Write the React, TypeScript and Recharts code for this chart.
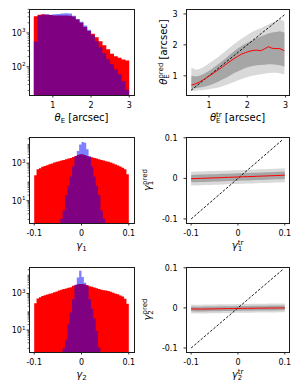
import React from 'react';
import { ComposedChart, Area, Line, XAxis, YAxis, Label } from 'recharts';

const FONT = '"DejaVu Sans", sans-serif';

// theta_E histogram: 25 bins from 0.5 to 3.0 arcsec
const thetaEdges = [0.5, 0.6, 0.7, 0.8, 0.9, 1.0, 1.1, 1.2, 1.3, 1.4, 1.5, 1.6, 1.7, 1.8, 1.9, 2.0, 2.1, 2.2, 2.3, 2.4, 2.5, 2.6, 2.7, 2.8, 2.9, 3.0];
const thetaTrueCounts = [3100, 3450, 3550, 3450, 3400, 3300, 3300, 3300, 3300, 3250, 3050, 2500, 2000, 1500, 1150, 950, 745, 570, 435, 330, 245, 205, 184, 164, 154];
const thetaPredCounts = [560, 3300, 3450, 3550, 3450, 3550, 3650, 3750, 3850, 3750, 3200, 2600, 2150, 1650, 1250, 850, 570, 380, 250, 170, 120, 85, 60, 38, 21];

// gamma histograms: 40 bins from -0.1 to 0.1
const gammaEdges = [-0.1, -0.095, -0.09, -0.085, -0.08, -0.075, -0.07, -0.065, -0.06, -0.055, -0.05, -0.045, -0.04, -0.035, -0.03, -0.025, -0.02, -0.015, -0.01, -0.005, 0, 0.005, 0.01, 0.015, 0.02, 0.025, 0.03, 0.035, 0.04, 0.045, 0.05, 0.055, 0.06, 0.065, 0.07, 0.075, 0.08, 0.085, 0.09, 0.095, 0.1];
const gamma1TrueCounts = [230, 480, 540, 640, 720, 780, 885, 960, 1085, 1180, 1280, 1390, 1500, 1630, 1770, 1920, 2170, 2450, 2770, 3010, 3010, 2770, 2450, 2170, 2080, 1920, 1770, 1630, 1500, 1390, 1280, 1180, 1085, 960, 850, 750, 665, 565, 480, 260];
const gamma1PredCounts = [null, null, null, null, null, null, null, null, null, null, null, 1.1, 3, 20, 63, 195, 665, 2260, 4500, 10000, 13500, 12500, 5500, 2450, 665, 195, 63, 20, 3, 1.1, null, null, null, null, null, null, null, null, null, null];
const gamma2TrueCounts = [295, 530, 620, 720, 810, 880, 960, 1040, 1150, 1300, 1450, 1600, 1730, 1880, 2040, 2200, 2630, 2900, 3150, 3250, 3250, 3100, 2900, 2500, 2300, 2100, 1900, 1750, 1600, 1520, 1450, 1350, 1230, 1100, 950, 900, 780, 685, 520, 270];
const gamma2PredCounts = [null, null, null, null, null, null, null, null, null, null, null, null, 1, 2.9, 21, 91, 490, 3000, 7500, 17500, 8000, 3800, 2600, 490, 140, 43, 9, 1.1, null, null, null, null, null, null, null, null, null, null, null, null];

// theta_E predicted vs true (binned median and percentile bands)
const thetaTrue = [0.54, 0.65, 0.75, 0.85, 0.95, 1.05, 1.15, 1.25, 1.35, 1.45, 1.55, 1.65, 1.75, 1.85, 1.95, 2.05, 2.15, 2.25, 2.35, 2.45, 2.55, 2.65, 2.75, 2.85, 2.97];
const thetaMedian = [0.7, 0.74, 0.8, 0.87, 0.95, 1.03, 1.11, 1.2, 1.29, 1.38, 1.47, 1.55, 1.63, 1.7, 1.75, 1.79, 1.82, 1.83, 1.81, 1.87, 1.94, 1.89, 1.88, 1.88, 1.81];
const thetaInnerLo = [0.58, 0.6, 0.62, 0.64, 0.67, 0.71, 0.76, 0.82, 0.88, 0.94, 1.01, 1.08, 1.14, 1.2, 1.25, 1.29, 1.32, 1.34, 1.35, 1.36, 1.37, 1.37, 1.36, 1.34, 1.3];
const thetaInnerHi = [1.0, 0.98, 1.0, 1.05, 1.12, 1.2, 1.29, 1.38, 1.48, 1.58, 1.69, 1.79, 1.88, 1.96, 2.04, 2.1, 2.16, 2.22, 2.27, 2.32, 2.37, 2.4, 2.42, 2.44, 2.4];
const thetaOuterLo = [0.5, 0.52, 0.53, 0.54, 0.56, 0.58, 0.6, 0.62, 0.66, 0.7, 0.75, 0.8, 0.85, 0.9, 0.94, 0.98, 1.01, 1.03, 1.05, 1.07, 1.09, 1.1, 1.1, 1.08, 1.04];
const thetaOuterHi = [1.27, 1.2, 1.22, 1.28, 1.36, 1.45, 1.53, 1.62, 1.72, 1.82, 1.92, 2.02, 2.11, 2.2, 2.28, 2.36, 2.43, 2.49, 2.54, 2.6, 2.66, 2.72, 2.78, 2.84, 2.76];
const thetaDiag = [0.53, 2.98];

// gamma predicted vs true
const gammaTrue = [-0.1, -0.09, -0.08, -0.07, -0.06, -0.05, -0.04, -0.03, -0.02, -0.01, 0, 0.01, 0.02, 0.03, 0.04, 0.05, 0.06, 0.07, 0.08, 0.09, 0.1];
const gamma1Median = [-0.0008, -0.0004, 0.0, 0.0004, 0.0009, 0.0013, 0.0017, 0.0022, 0.0026, 0.003, 0.0034, 0.0039, 0.0043, 0.0047, 0.0052, 0.0056, 0.006, 0.0065, 0.0069, 0.0074, 0.0079];
const gamma1InnerLo = [-0.0098, -0.0095, -0.0091, -0.0087, -0.0083, -0.0079, -0.0075, -0.0071, -0.0066, -0.0062, -0.0058, -0.0054, -0.005, -0.0045, -0.0041, -0.0037, -0.0033, -0.0028, -0.0024, -0.002, -0.0015];
const gamma1InnerHi = [0.0085, 0.009, 0.0093, 0.0097, 0.0101, 0.0104, 0.0108, 0.0112, 0.0116, 0.012, 0.0124, 0.0128, 0.0132, 0.0136, 0.014, 0.0145, 0.0149, 0.0154, 0.0158, 0.0163, 0.0168];
const gamma1OuterLo = [-0.0178, -0.0174, -0.017, -0.0166, -0.0162, -0.0158, -0.0154, -0.015, -0.0146, -0.0141, -0.0137, -0.0133, -0.0129, -0.0124, -0.012, -0.0116, -0.0112, -0.0107, -0.0103, -0.0099, -0.0094];
const gamma1OuterHi = [0.0165, 0.017, 0.0172, 0.0176, 0.018, 0.0183, 0.0188, 0.0191, 0.0195, 0.02, 0.0203, 0.0207, 0.0211, 0.0215, 0.022, 0.0224, 0.0228, 0.0233, 0.0237, 0.0242, 0.0247];
const gamma2Median = [-0.0026, -0.0029, -0.003, -0.0028, -0.0026, -0.0024, -0.0022, -0.002, -0.0018, -0.0016, -0.0014, -0.0012, -0.001, -0.0009, -0.0007, -0.0006, -0.0004, -0.0003, -0.0002, -0.0001, 0.0];
const gamma2InnerLo = [-0.0086, -0.0089, -0.009, -0.0088, -0.0086, -0.0084, -0.0082, -0.008, -0.0078, -0.0076, -0.0074, -0.0072, -0.007, -0.0069, -0.0067, -0.0066, -0.0064, -0.0063, -0.0062, -0.0061, -0.006];
const gamma2InnerHi = [0.0034, 0.003, 0.003, 0.0032, 0.0034, 0.0036, 0.0038, 0.004, 0.0042, 0.0044, 0.0046, 0.0048, 0.005, 0.0051, 0.0053, 0.0054, 0.0056, 0.0057, 0.0058, 0.0059, 0.006];
const gamma2OuterLo = [-0.0136, -0.0139, -0.014, -0.0138, -0.0136, -0.0134, -0.0132, -0.013, -0.0128, -0.0126, -0.0124, -0.0122, -0.012, -0.0119, -0.0117, -0.0116, -0.0114, -0.0113, -0.0112, -0.0111, -0.011];
const gamma2OuterHi = [0.0084, 0.008, 0.008, 0.0082, 0.0084, 0.0086, 0.0088, 0.009, 0.0092, 0.0094, 0.0096, 0.0098, 0.01, 0.0101, 0.0103, 0.0104, 0.0106, 0.0107, 0.0108, 0.0109, 0.011];
const gammaDiag = [-0.1, 0.095];

// tick values
const thetaTicks = [1, 2, 3];
const gammaTicks = [-0.1, 0, 0.1];
const thetaCountMajor = [100, 1000];
const thetaCountMinor = [20, 30, 40, 50, 60, 70, 80, 90, 200, 300, 400, 500, 600, 700, 800, 900, 2000, 3000, 4000, 5000];
const gammaCountMajor = [10, 1000];
const gammaCountMinor = [1, 2, 3, 4, 5, 6, 7, 8, 9, 20, 30, 40, 50, 60, 70, 80, 90, 100, 200, 300, 400, 500, 600, 700, 800, 900, 2000, 3000, 4000, 5000, 6000, 7000, 8000, 9000, 10000, 20000];

// step-histogram rows: one point per bin edge, the last edge repeats the last bin
function histTable(edges, red, blue) {
  const pick = (arr, i) => {
    if (arr[i] != null) return arr[i];
    return arr[i - 1] != null ? arr[i - 1] : null;
  };
  return edges.map((x, i) => ({ x, red: pick(red, i), blue: pick(blue, i) }));
}

function bandTable(xs, med, inLo, inHi, outLo, outHi) {
  return xs.map((x, i) => ({ x, med: med[i], inner: [inLo[i], inHi[i]], outer: [outLo[i], outHi[i]] }));
}

const PAD_T = 5;
const PAD_R = 6;
const X_AXIS_H = 34;

const fmt = (v) => String(v);

// width of small mathtext pieces (DejaVu Sans advance widths, em)
const glyphW = { E: 0.632, '1': 0.636, '2': 0.636, t: 0.392, r: 0.411, p: 0.635, e: 0.615, d: 0.635 };
const textW = (s, size) => s.split('').reduce((a, c) => a + (glyphW[c] || 0.6), 0) * size;

function MathText({ x, y, base, sub, sup, rest, rotate }) {
  const s = 7;
  const supW = sup ? textW(sup, s) : 0;
  const subW = textW(sub, s);
  return (
    <text
      x={x}
      y={y}
      textAnchor="middle"
      fontSize={10}
      fontFamily={FONT}
      fill="#000"
      transform={rotate ? `rotate(-90 ${x} ${y})` : undefined}
    >
      <tspan fontStyle="italic">{base}</tspan>
      {sup ? <tspan fontSize={s} dy={-4}>{sup}</tspan> : null}
      <tspan fontSize={s} dx={sup ? -supW : 0} dy={sup ? 6.5 : 2.5}>{sub}</tspan>
      {rest ? <tspan dx={sup ? Math.max(0, supW - subW) : 0} dy={-2.5}>{rest}</tspan> : null}
    </text>
  );
}

function XTick({ x, y, payload }) {
  return (
    <g>
      <line x1={x} x2={x} y1={y} y2={y + 2.5} stroke="#000" strokeWidth={0.8} />
      <text x={x} y={y + 12.8} textAnchor="middle" fontSize={8} fontFamily={FONT} fill="#000">
        {fmt(payload.value)}
      </text>
    </g>
  );
}

function LinYTick({ x, y, payload }) {
  return (
    <g>
      <line x1={x - 2.5} x2={x} y1={y} y2={y} stroke="#000" strokeWidth={0.8} />
      <text x={x - 8.5} y={y + 2.9} textAnchor="end" fontSize={8} fontFamily={FONT} fill="#000">
        {fmt(payload.value)}
      </text>
    </g>
  );
}

function LogYTick({ x, y, payload, labeled }) {
  const v = payload.value;
  if (labeled.includes(v)) {
    const exp = Math.round(Math.log10(v));
    return (
      <g>
        <line x1={x - 2.5} x2={x} y1={y} y2={y} stroke="#000" strokeWidth={0.8} />
        <text x={x - 3.5} y={y + 3} textAnchor="end" fontSize={8} fontFamily={FONT} fill="#000">
          10<tspan dy={-3.5} fontSize={5.6}>{exp}</tspan>
        </text>
      </g>
    );
  }
  return <line x1={x - 1.4} x2={x} y1={y} y2={y} stroke="#000" strokeWidth={0.6} />;
}

function Frame({ left, top, w, h }) {
  return (
    <div
      style={{
        position: 'absolute',
        left: left - 0.5,
        top: top - 0.5,
        width: w + 1,
        height: h + 1,
        border: '1px solid #1a1a1a',
        boxSizing: 'border-box',
        pointerEvents: 'none',
      }}
    />
  );
}

function HistPanel({ left, top, w, h, yAxisW, xDomain, xTicks, yDomain, yMajor, yMinor, data, xLabel }) {
  return (
    <>
      <div style={{ position: 'absolute', left: left - yAxisW, top: top - PAD_T }}>
        <ComposedChart
          width={yAxisW + w + PAD_R}
          height={PAD_T + h + X_AXIS_H}
          data={data}
          margin={{ top: PAD_T, right: PAD_R, left: 0, bottom: 0 }}
        >
          <XAxis
            type="number"
            dataKey="x"
            domain={xDomain}
            allowDataOverflow
            ticks={xTicks}
            interval={0}
            tickSize={0}
            tickMargin={0}
            axisLine={false}
            tickLine={false}
            height={X_AXIS_H}
            tick={(t) => <XTick {...t} />}
          >
            <Label content={() => <MathText x={yAxisW + w / 2} y={PAD_T + h + 25.5} {...xLabel} />} />
          </XAxis>
          <YAxis
            type="number"
            scale="log"
            domain={yDomain}
            allowDataOverflow
            ticks={[...yMajor, ...yMinor]}
            interval={0}
            tickSize={0}
            tickMargin={0}
            axisLine={false}
            tickLine={false}
            width={yAxisW}
            tick={(t) => <LogYTick {...t} labeled={yMajor} />}
          />
          <Area type="stepAfter" dataKey="red" stroke="none" fill="#ff0000" fillOpacity={1} baseValue={yDomain[0]} isAnimationActive={false} dot={false} activeDot={false} />
          <Area type="stepAfter" dataKey="blue" stroke="none" fill="#0000ff" fillOpacity={0.5} baseValue={yDomain[0]} isAnimationActive={false} dot={false} activeDot={false} />
        </ComposedChart>
      </div>
      <Frame left={left} top={top} w={w} h={h} />
    </>
  );
}

function ScatterPanel({ left, top, w, h, yAxisW, xDomain, yDomain, ticks, data, diag, xLabel, yLabel, yLabelX }) {
  const diagData = diag.map((v) => ({ x: v, y: v }));
  return (
    <>
      <div style={{ position: 'absolute', left: left - yAxisW, top: top - PAD_T }}>
        <ComposedChart
          width={yAxisW + w + PAD_R}
          height={PAD_T + h + X_AXIS_H}
          data={data}
          margin={{ top: PAD_T, right: PAD_R, left: 0, bottom: 0 }}
        >
          <XAxis
            type="number"
            dataKey="x"
            domain={xDomain}
            allowDataOverflow
            ticks={ticks}
            interval={0}
            tickSize={0}
            tickMargin={0}
            axisLine={false}
            tickLine={false}
            height={X_AXIS_H}
            tick={(t) => <XTick {...t} />}
          >
            <Label content={() => <MathText x={yAxisW + w / 2} y={PAD_T + h + 25.5} {...xLabel} />} />
          </XAxis>
          <YAxis
            type="number"
            domain={yDomain}
            allowDataOverflow
            ticks={ticks}
            interval={0}
            tickSize={0}
            tickMargin={0}
            axisLine={false}
            tickLine={false}
            width={yAxisW}
            tick={(t) => <LinYTick {...t} />}
          >
            <Label content={() => <MathText x={yLabelX - (left - yAxisW)} y={PAD_T + h / 2} rotate {...yLabel} />} />
          </YAxis>
          <Area type="linear" dataKey="outer" stroke="none" fill="#d9d9d9" fillOpacity={1} isAnimationActive={false} dot={false} activeDot={false} />
          <Area type="linear" dataKey="inner" stroke="none" fill="#a6a6a6" fillOpacity={1} isAnimationActive={false} dot={false} activeDot={false} />
          <Line data={diagData} dataKey="y" stroke="#000" strokeWidth={0.9} strokeDasharray="2.6 1.6" dot={false} activeDot={false} isAnimationActive={false} />
          <Line type="linear" dataKey="med" stroke="#ff0000" strokeWidth={1} dot={false} activeDot={false} isAnimationActive={false} />
        </ComposedChart>
      </div>
      <Frame left={left} top={top} w={w} h={h} />
    </>
  );
}

const LX = 29;
const LW = 105;
const RX = 186;
const RW = 103;
const ROWS = [
  { top: 9, h: 86 },
  { top: 137, h: 86 },
  { top: 267, h: 85 },
];

export default function App() {
  const thetaHist = histTable(thetaEdges, thetaTrueCounts, thetaPredCounts);
  const g1Hist = histTable(gammaEdges, gamma1TrueCounts, gamma1PredCounts);
  const g2Hist = histTable(gammaEdges, gamma2TrueCounts, gamma2PredCounts);
  const thetaBand = bandTable(thetaTrue, thetaMedian, thetaInnerLo, thetaInnerHi, thetaOuterLo, thetaOuterHi);
  const g1Band = bandTable(gammaTrue, gamma1Median, gamma1InnerLo, gamma1InnerHi, gamma1OuterLo, gamma1OuterHi);
  const g2Band = bandTable(gammaTrue, gamma2Median, gamma2InnerLo, gamma2InnerHi, gamma2OuterLo, gamma2OuterHi);

  return (
    <div style={{ position: 'absolute', left: 0, top: 0, width: 299, height: 385, background: '#fff', overflow: 'hidden' }}>
      <HistPanel
        left={LX} top={ROWS[0].top} w={LW} h={ROWS[0].h} yAxisW={29}
        xDomain={[0.375, 3.125]} xTicks={thetaTicks}
        yDomain={[14.7, 5100]} yMajor={thetaCountMajor} yMinor={thetaCountMinor}
        data={thetaHist}
        xLabel={{ base: 'θ', sub: 'E', rest: ' [arcsec]' }}
      />
      <ScatterPanel
        left={RX} top={ROWS[0].top} w={RW} h={ROWS[0].h} yAxisW={50}
        xDomain={[0.4, 3.09]} yDomain={[0.38, 3.16]} ticks={thetaTicks}
        data={thetaBand} diag={thetaDiag}
        xLabel={{ base: 'θ', sub: 'E', sup: 'tr', rest: ' [arcsec]' }}
        yLabel={{ base: 'θ', sub: 'E', sup: 'pred', rest: ' [arcsec]' }}
        yLabelX={166.5}
      />
      <HistPanel
        left={LX} top={ROWS[1].top} w={LW} h={ROWS[1].h} yAxisW={29}
        xDomain={[-0.111, 0.111]} xTicks={gammaTicks}
        yDomain={[0.645, 25000]} yMajor={gammaCountMajor} yMinor={gammaCountMinor}
        data={g1Hist}
        xLabel={{ base: 'γ', sub: '1' }}
      />
      <ScatterPanel
        left={RX} top={ROWS[1].top} w={RW} h={ROWS[1].h} yAxisW={50}
        xDomain={[-0.111, 0.109]} yDomain={[-0.11, 0.102]} ticks={gammaTicks}
        data={g1Band} diag={gammaDiag}
        xLabel={{ base: 'γ', sub: '1', sup: 'tr' }}
        yLabel={{ base: 'γ', sub: '1', sup: 'pred' }}
        yLabelX={150.5}
      />
      <HistPanel
        left={LX} top={ROWS[2].top} w={LW} h={ROWS[2].h} yAxisW={29}
        xDomain={[-0.111, 0.111]} xTicks={gammaTicks}
        yDomain={[0.63, 28000]} yMajor={gammaCountMajor} yMinor={gammaCountMinor}
        data={g2Hist}
        xLabel={{ base: 'γ', sub: '2' }}
      />
      <ScatterPanel
        left={RX} top={ROWS[2].top} w={RW} h={ROWS[2].h} yAxisW={50}
        xDomain={[-0.111, 0.109]} yDomain={[-0.11, 0.102]} ticks={gammaTicks}
        data={g2Band} diag={gammaDiag}
        xLabel={{ base: 'γ', sub: '2', sup: 'tr' }}
        yLabel={{ base: 'γ', sub: '2', sup: 'pred' }}
        yLabelX={150.5}
      />
    </div>
  );
}
